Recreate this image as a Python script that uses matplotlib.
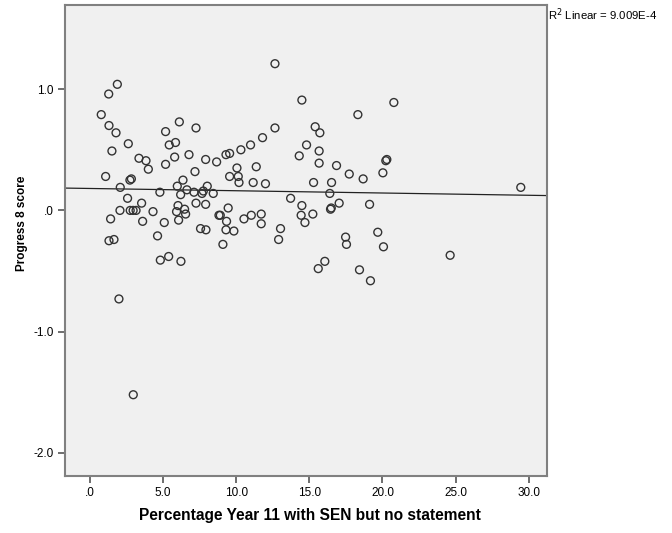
import numpy as np
import matplotlib
matplotlib.use("Agg")
import matplotlib.pyplot as plt

plt.rcParams['font.family'] = ['Liberation Sans', 'DejaVu Sans']

# percentage year 11 with SEN but no statement
sen_pct = [1.87, 1.28, 0.77, 1.30, 1.78, 1.50, 2.62, 5.17, 6.11, 7.25,
           5.42, 5.85, 5.79, 6.77, 5.17, 7.91, 8.66, 3.35, 3.83, 3.99,
           1.07, 2.73, 2.83, 7.18, 6.36, 2.07, 5.97, 6.63, 8.02, 4.78,
           6.20, 7.11, 7.66, 7.75, 8.43, 2.57, 3.53, 2.05, 2.75, 2.95,
           3.15, 4.31, 6.02, 6.47, 5.92, 6.54, 7.25, 7.91, 8.82, 1.41,
           3.60, 5.08, 6.06, 7.56, 7.93, 4.62, 1.30, 1.64, 4.81, 5.38,
           6.22, 1.98, 2.96, 12.65, 14.49, 18.32, 12.65, 15.40, 15.72, 11.80,
           10.98, 10.32, 9.55, 9.30, 14.81, 14.31, 15.67, 15.67, 16.86, 10.05,
           11.37, 17.73, 18.68, 9.55, 10.14, 10.19, 11.16, 12.00, 15.29, 16.52,
           13.72, 14.49, 16.40, 17.04, 16.45, 16.50, 19.12, 9.45, 8.91, 9.34,
           10.53, 11.03, 11.71, 11.71, 14.44, 14.70, 15.24, 9.30, 9.84, 9.09,
           13.03, 12.90, 17.48, 17.54, 19.68, 15.61, 16.06, 18.43, 19.18, 20.78,
           20.23, 20.30, 20.03, 29.46, 20.07, 24.63]
# progress 8 score
p8 = [1.04, 0.96, 0.79, 0.70, 0.64, 0.49, 0.55, 0.65, 0.73, 0.68,
      0.54, 0.56, 0.44, 0.46, 0.38, 0.42, 0.40, 0.43, 0.41, 0.34,
      0.28, 0.25, 0.26, 0.32, 0.25, 0.19, 0.20, 0.17, 0.20, 0.15,
      0.13, 0.15, 0.14, 0.16, 0.14, 0.10, 0.06, 0.00, 0.00, 0.00,
      0.00, -0.01, 0.04, 0.01, -0.01, -0.03, 0.06, 0.05, -0.04, -0.07,
      -0.09, -0.10, -0.08, -0.15, -0.16, -0.21, -0.25, -0.24, -0.41, -0.38,
      -0.42, -0.73, -1.52, 1.21, 0.91, 0.79, 0.68, 0.69, 0.64, 0.60,
      0.54, 0.50, 0.47, 0.46, 0.54, 0.45, 0.49, 0.39, 0.37, 0.35,
      0.36, 0.30, 0.26, 0.28, 0.28, 0.23, 0.23, 0.22, 0.23, 0.23,
      0.10, 0.04, 0.14, 0.06, 0.01, 0.02, 0.05, 0.02, -0.04, -0.09,
      -0.07, -0.04, -0.03, -0.11, -0.04, -0.10, -0.03, -0.16, -0.17, -0.28,
      -0.15, -0.24, -0.22, -0.28, -0.18, -0.48, -0.42, -0.49, -0.58, 0.89,
      0.41, 0.42, 0.31, 0.19, -0.30, -0.37]

x_ticks = [0, 5, 10, 15, 20, 25, 30]
x_labels = [".0", "5.0", "10.0", "15.0", "20.0", "25.0", "30.0"]
y_ticks = [-2, -1, 0, 1]
y_labels = ["-2.0", "-1.0", ".0", "1.0"]

fig = plt.figure(figsize=(6.72, 5.33), dpi=100)
ax = fig.add_axes([0.0967, 0.107, 0.717, 0.8836])
ax.set_facecolor('#f0f0f0')

x_min, x_max = -1.71, 31.24
ax.set_xlim(x_min, x_max)
ax.set_ylim(-2.19, 1.694)

ax.scatter(sen_pct, p8, s=32, facecolors='none', edgecolors='#333333', linewidths=1.0, zorder=3)

# linear fit drawn across the whole axis
slope, icpt = np.polyfit(sen_pct, p8, 1)
xs = np.array([x_min, x_max])
ax.plot(xs, icpt + slope * xs, color='#222222', lw=0.9, zorder=2)

ax.set_xticks(x_ticks)
ax.set_xticklabels(x_labels)
ax.set_yticks(y_ticks)
ax.set_yticklabels(y_labels)
ax.tick_params(direction='out', length=5, width=1.2, color='#555555', labelsize=8.5, pad=3)

for sp in ax.spines.values():
    sp.set_color('#808080')
    sp.set_linewidth(1.5)

ax.set_xlabel("Percentage Year 11 with SEN but no statement", fontsize=11.2, fontweight='bold')
ax.xaxis.set_label_coords(0.508, -0.068)
ax.set_ylabel("Progress 8 score", fontsize=8.5, fontweight='bold')
ax.yaxis.set_label_coords(-0.077, 0.537)

fig.text(0.816, 0.988, "R$^2$ Linear = 9.009E-4", fontsize=8.2, ha='left', va='top')

fig.savefig("out.png", dpi=100, facecolor='white')
